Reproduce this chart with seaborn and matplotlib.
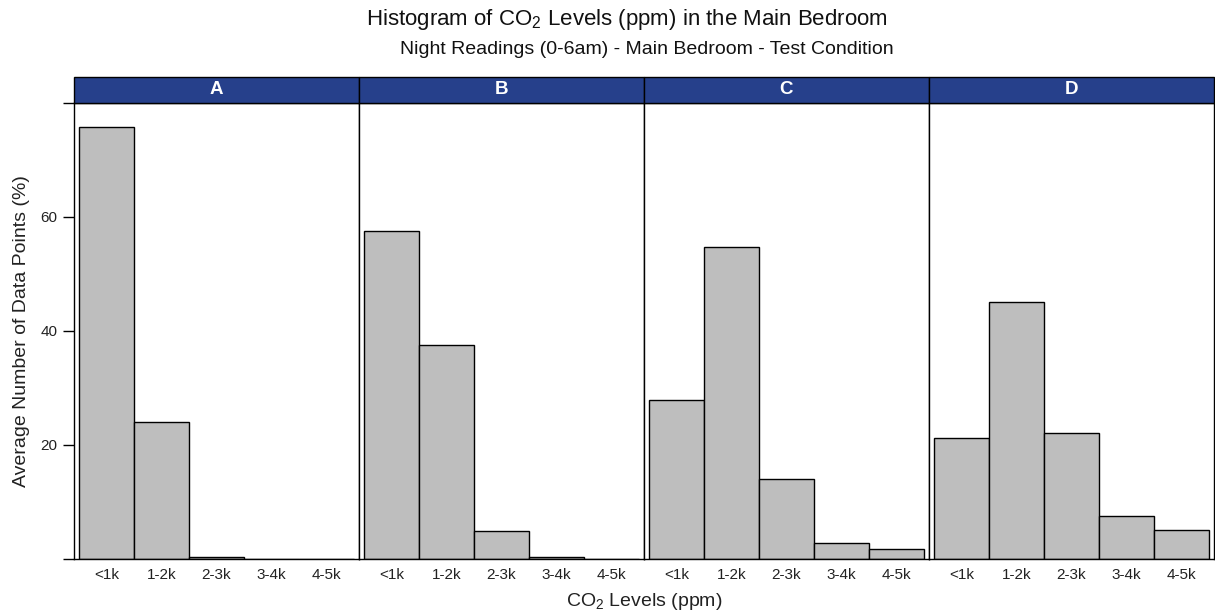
import matplotlib
matplotlib.use("Agg")
import matplotlib.pyplot as plt
import seaborn as sns
import pandas as pd
from matplotlib.patches import Rectangle

sns.set_theme(style="white")
plt.rcParams['font.family'] = ['Liberation Sans', 'DejaVu Sans']
plt.rcParams['mathtext.default'] = 'regular'

conditions = ["A", "B", "C", "D"]
bins = ["<1k", "1-2k", "2-3k", "3-4k", "4-5k"]
vals_A = [75.8, 24.0, 0.25, 0.0, 0.0]
vals_B = [57.5, 37.5, 4.9, 0.2, 0.0]
vals_C = [27.8, 54.7, 14.0, 2.8, 1.6]
vals_D = [21.2, 45.1, 22.0, 7.4, 5.0]
all_vals = [vals_A, vals_B, vals_C, vals_D]

yticks = [0, 20, 40, 60, 80]
ytick_labels = ["", "20", "40", "60", ""]

W, H = 1215, 614
fig, axes = plt.subplots(1, 4, figsize=(W / 100, H / 100), dpi=100, sharey=True)
left, right = 74 / W, 1214 / W
bottom, top = 1 - 558.5 / H, 1 - 103 / H
fig.subplots_adjust(left=left, right=right, bottom=bottom, top=top, wspace=0)

strip_h = 26 / H
for ax, cond, vals in zip(axes, conditions, all_vals):
    df = pd.DataFrame({"bin": bins, "pct": vals})
    sns.barplot(data=df, x="bin", y="pct", order=bins, color="#BEBEBE",
                edgecolor="black", linewidth=1, width=1, saturation=1, ax=ax)
    ax.set_xlim(-0.59, 4.59)
    ax.set_ylim(0, 80)
    ax.set_xlabel("")
    ax.set_ylabel("")
    for s in ax.spines.values():
        s.set_visible(True)
        s.set_color("black")
        s.set_linewidth(1)
    ax.tick_params(axis="x", length=0, labelsize=11, pad=7, colors="#222222")
    ax.tick_params(axis="y", length=0)
    pos = ax.get_position()
    fig.patches.append(Rectangle((pos.x0, pos.y1), pos.width, strip_h,
                                 transform=fig.transFigure, facecolor="#26408B",
                                 edgecolor="black", linewidth=1, zorder=3))
    fig.text((pos.x0 + pos.x1) / 2, pos.y1 + strip_h / 2, cond, color="white",
             fontsize=13.5, fontweight="bold", ha="center", va="center", zorder=4)

axes[0].set_yticks(yticks)
axes[0].set_yticklabels(ytick_labels)
axes[0].tick_params(axis="y", length=8, width=1, direction="out", labelsize=11,
                    colors="black", labelcolor="#222222", pad=4, left=True)
axes[0].yaxis.set_label_coords(-(74 - 22) / (1214 - 74) * 4, 0.5)
axes[0].set_ylabel("Average Number of Data Points (%)", fontsize=14,
                   color="#222222", va="center")
for ax in axes[1:]:
    ax.tick_params(axis="y", left=False, labelleft=False)

fig.text(627 / W, 1 - 20 / H, "Histogram of CO$_2$ Levels (ppm) in the Main Bedroom",
         ha="center", va="center", fontsize=16, color="#111111")
fig.text(647 / W, 1 - 49 / H, "Night Readings (0-6am) - Main Bedroom - Test Condition",
         ha="center", va="center", fontsize=14, color="#111111")
fig.text(644 / W, 1 - 602 / H, "CO$_2$ Levels (ppm)", ha="center", va="center",
         fontsize=14, color="#222222")

fig.savefig("out.png", dpi=100)
